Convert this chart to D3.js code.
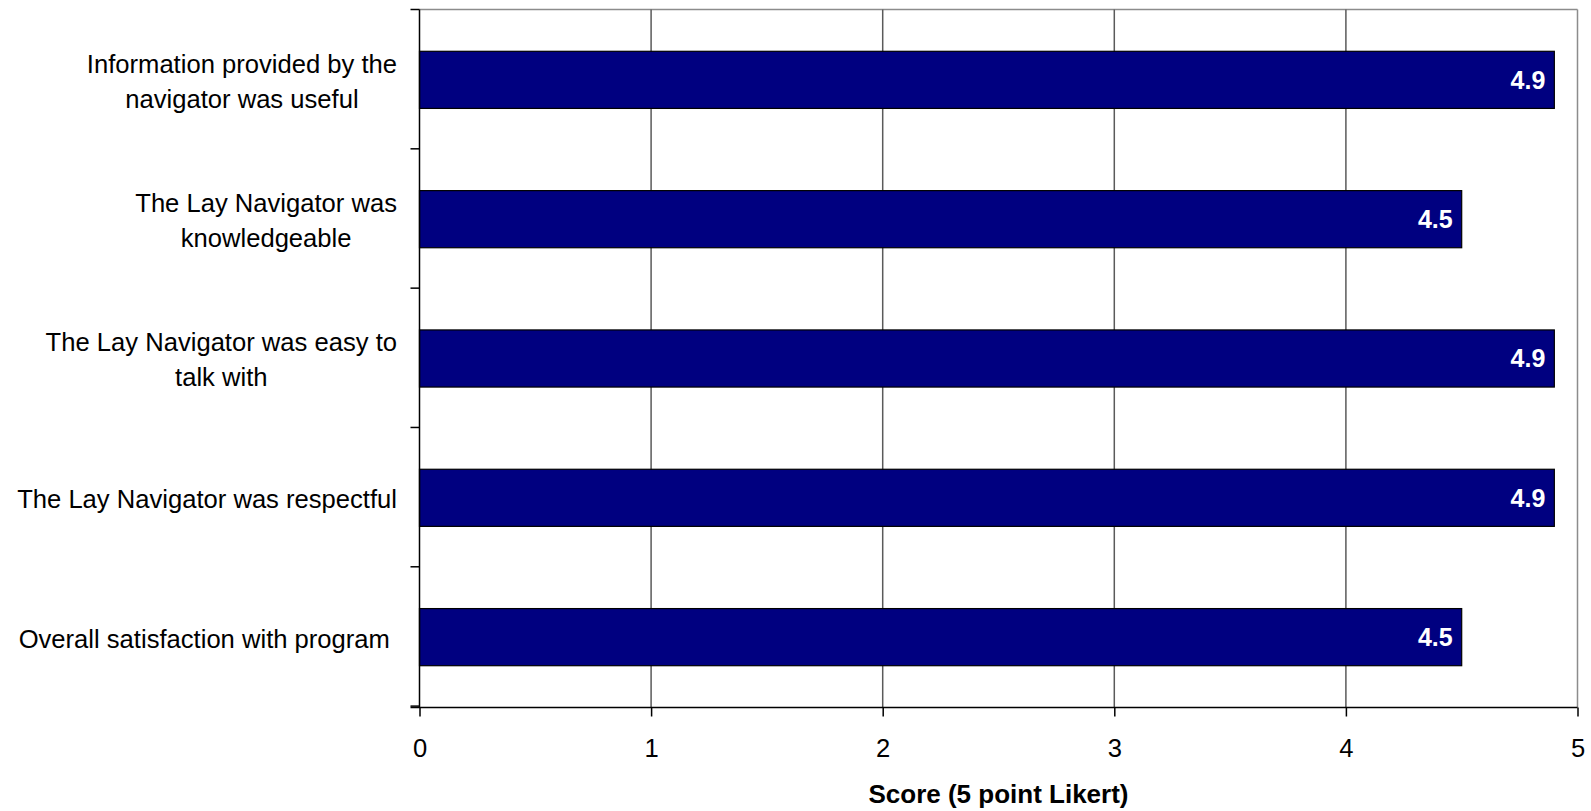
<!DOCTYPE html>
<html>
<head>
<meta charset="utf-8">
<script src="https://cdn.jsdelivr.net/npm/d3@7"></script>
<style>
  html, body { margin: 0; padding: 0; background: #fff; }
  svg { display: block; font-family: "Liberation Sans", Arial, sans-serif; }
</style>
</head>
<body>
<svg id="chart" width="1591" height="811"></svg>
<script>
// Survey items (top to bottom) and their mean scores
const categories = [
  ["Information provided by the", "navigator was useful"],
  ["The Lay Navigator was", "knowledgeable"],
  ["The Lay Navigator was easy to", "talk with"],
  ["The Lay Navigator was respectful"],
  ["Overall satisfaction with program\u00a0"]
];
const scores = [4.9, 4.5, 4.9, 4.9, 4.5];
const xTicks = [0, 1, 2, 3, 4, 5];
const xTitle = "Score (5 point Likert)";

const svg = d3.select("#chart");
const plot = { left: 419.5, right: 1577.5, top: 9.5, bottom: 707.5 };

const x = d3.scaleLinear().domain([0, 5]).range([plot.left, plot.right]);
const y = d3.scaleBand()
  .domain(d3.range(categories.length))
  .range([plot.top, plot.bottom])
  .paddingInner(0.59).paddingOuter(0.3);

// Plot frame: light top edge
svg.append("line").attr("x1", plot.left).attr("x2", plot.right)
  .attr("y1", plot.top).attr("y2", plot.top)
  .attr("stroke", "#8c8c8c").attr("stroke-width", 1.5);

// Vertical gridlines (the last one doubles as the right frame edge)
svg.append("g").selectAll("line").data(xTicks.slice(1))
  .join("line")
  .attr("x1", d => x(d)).attr("x2", d => x(d))
  .attr("y1", plot.top).attr("y2", plot.bottom)
  .attr("stroke", d => d === 5 ? "#8c8c8c" : "#5a5a5a")
  .attr("stroke-width", 1.5);

// Bars
svg.append("g").selectAll("rect").data(scores)
  .join("rect")
  .attr("x", x(0))
  .attr("y", (d, i) => y(i))
  .attr("width", d => x(d) - x(0))
  .attr("height", y.bandwidth())
  .attr("fill", "#000080")
  .attr("stroke", "#000")
  .attr("stroke-width", 1.2);

// Value labels inside bar ends
svg.append("g").selectAll("text").data(scores)
  .join("text")
  .attr("x", d => x(d) - 9)
  .attr("y", (d, i) => y(i) + y.bandwidth() / 2)
  .attr("dy", "0.35em")
  .attr("text-anchor", "end")
  .attr("fill", "#fff")
  .attr("font-weight", "bold")
  .attr("font-size", 25)
  .text(d => d.toFixed(1));

// X axis
const xAxis = d3.axisBottom(x).tickValues(xTicks).tickSize(9).tickPadding(22)
  .tickFormat(d3.format("d"));
const gx = svg.append("g").attr("transform", `translate(0,${plot.bottom})`).call(xAxis);
gx.select(".domain").attr("d", `M${plot.left - 9},0H${plot.right}`)
  .attr("stroke", "#000").attr("stroke-width", 1.5);
gx.selectAll(".tick line").attr("stroke", "#000").attr("stroke-width", 1.5);
gx.selectAll(".tick text").attr("font-size", 25.6).attr("fill", "#000")
  .attr("font-family", "Liberation Sans, Arial, sans-serif");

// Y axis line and ticks at category boundaries
const boundaries = d3.range(categories.length + 1).map(i => plot.top + i * y.step());
svg.append("line").attr("x1", plot.left).attr("x2", plot.left)
  .attr("y1", plot.top).attr("y2", plot.bottom)
  .attr("stroke", "#000").attr("stroke-width", 1.5);
svg.append("g").selectAll("line").data(boundaries)
  .join("line")
  .attr("x1", plot.left - 9).attr("x2", plot.left)
  .attr("y1", d => d).attr("y2", d => d)
  .attr("stroke", "#000").attr("stroke-width", 1.5);

// Category labels: centred lines, block right-aligned to the axis
const labelRight = 397;
const lineH = 35;
const gl = svg.append("g").attr("font-size", 25.6).attr("fill", "#000");
categories.forEach((lines, i) => {
  const cy = y(i) + y.bandwidth() / 2 + 1.5;
  const t = gl.append("text").attr("text-anchor", "middle")
    .style("white-space", "pre");
  lines.forEach((ln, j) => {
    t.append("tspan").attr("x", 0)
      .attr("y", cy + (j - (lines.length - 1) / 2) * lineH)
      .attr("dy", "0.35em").text(ln);
  });
  const w = d3.max(t.selectAll("tspan").nodes(), n => n.getComputedTextLength());
  t.selectAll("tspan").attr("x", labelRight - w / 2);
});

// Axis title
svg.append("text")
  .attr("x", (plot.left + plot.right) / 2)
  .attr("y", 794).attr("dy", "0.35em")
  .attr("text-anchor", "middle")
  .attr("font-size", 26).attr("font-weight", "bold")
  .text(xTitle);
</script>
</body>
</html>
